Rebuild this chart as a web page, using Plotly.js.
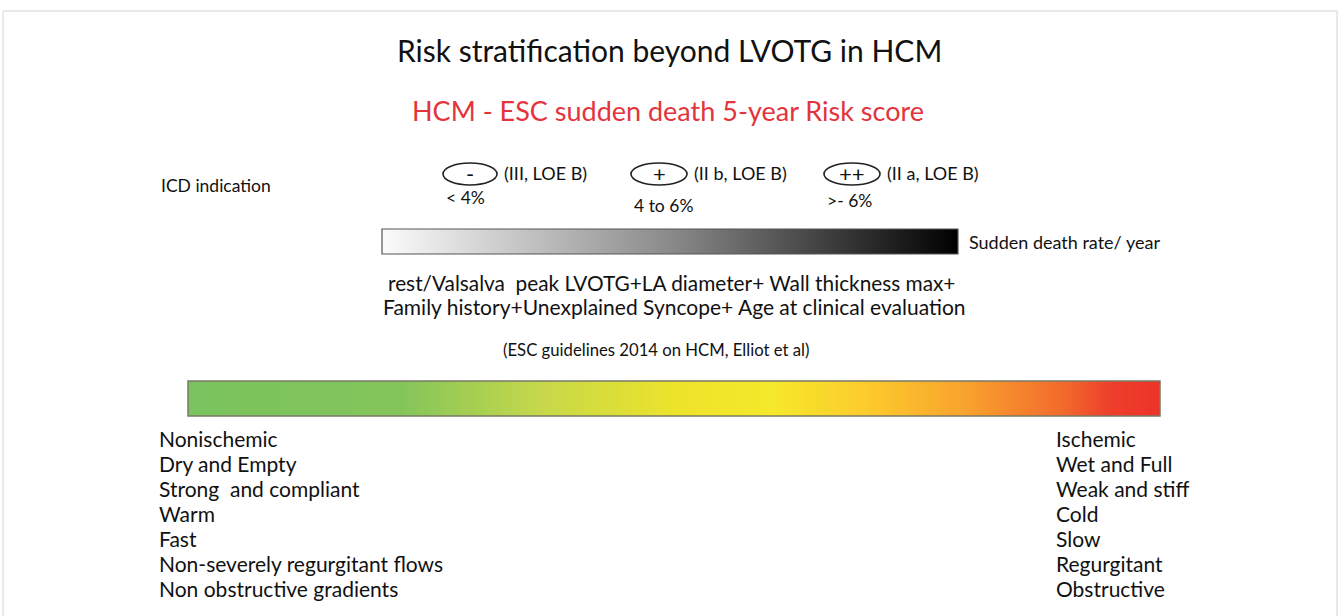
<!DOCTYPE html>
<html><head><meta charset="utf-8">
<script src="https://cdn.plot.ly/plotly-3.0.1.min.js"></script>
<style>html,body{margin:0;padding:0;background:#fff;}#chart{width:1340px;height:616px;}</style>
</head><body><div id="chart"></div>
<script>
// ---- data ----
const titleText = 'Risk stratification beyond LVOTG in HCM';
const subtitleText = 'HCM - ESC sudden death 5-year Risk score';
const icdLabel = 'ICD indication';
const icdSymbols = ['-', '+', '++'];
const icdClasses = ['(III, LOE B)', '(II b, LOE B)', '(II a, LOE B)'];
const riskRanges = ['< 4%', '4 to 6%', '>- 6%'];
const grayScaleLabel = 'Sudden death rate/ year';
const scoreLines = ['rest/Valsalva  peak LVOTG+LA diameter+ Wall thickness max+',
                    'Family history+Unexplained Syncope+ Age at clinical evaluation'];
const sourceText = '(ESC guidelines 2014 on HCM, Elliot et al)';
const leftLabels = ['Nonischemic', 'Dry and Empty', 'Strong  and compliant', 'Warm', 'Fast',
                    'Non-severely regurgitant flows', 'Non obstructive gradients'];
const rightLabels = ['Ischemic', 'Wet and Full', 'Weak and stiff', 'Cold', 'Slow',
                     'Regurgitant', 'Obstructive'];
const grayStops = [0, 0.5, 1];
const grayColors = ['#fbfbfb', '#8a8a8a', '#000000'];
const colorStops = [0, 0.22, 0.36, 0.5, 0.6, 0.7, 0.8, 0.9, 0.95, 1];
const colorColors = ['#7ac35e', '#84c55a', '#c5d84b', '#ede32a', '#f6e92b', '#fcca2c', '#f9a22e', '#f26a2b', '#ee3e2b', '#ec3329'];

// ---- layout helpers ----
const W = 1340, H = 616;
const FONT = 'Lato, "Open Sans", sans-serif';
const INK = '#111';
const grayBar = {x0: 382, x1: 958, y0: 229, y1: 254};
const colorBar = {x0: 188, x1: 1160, y0: 381, y1: 416};
function dom(b) {
  return {x: [b.x0 / W, b.x1 / W], y: [1 - b.y1 / H, 1 - b.y0 / H]};
}
const gd = dom(grayBar), cd = dom(colorBar);
const hidden = {visible: false, showgrid: false, zeroline: false, fixedrange: true};

const traces = [
  {type: 'heatmap', xaxis: 'x2', yaxis: 'y2', x: grayStops, y: [0, 1], z: [grayStops, grayStops],
   zmin: 0, zmax: 1, zsmooth: 'best', showscale: false,
   colorscale: grayStops.map((s, i) => [s, grayColors[i]]), hoverinfo: 'skip'},
  {type: 'heatmap', xaxis: 'x3', yaxis: 'y3', x: colorStops, y: [0, 1], z: [colorStops, colorStops],
   zmin: 0, zmax: 1, zsmooth: 'best', showscale: false,
   colorscale: colorStops.map((s, i) => [s, colorColors[i]]), hoverinfo: 'skip'}
];

const ann = [];
function txt(text, x, y, size, opts) {
  ann.push(Object.assign({text: text, x: x, y: y, xref: 'x', yref: 'y', showarrow: false,
    xanchor: 'left', yanchor: 'middle', font: {family: FONT, size: size, color: INK}}, opts || {}));
}
txt(titleText, 669, 50, 30, {xanchor: 'center'});
txt(subtitleText, 668, 110, 27, {xanchor: 'center', font: {family: FONT, size: 27, color: '#e3343c'}});
txt(icdLabel, 159, 185, 17.5);

const ovalX = [443, 631, 824];
const ovalW = [54, 56, 56];
const rangeY = [197, 205, 200];
const shapes = [];
icdSymbols.forEach((s, i) => {
  shapes.push({type: 'circle', xref: 'x', yref: 'y', x0: ovalX[i], x1: ovalX[i] + ovalW[i], y0: 163, y1: 185,
    line: {color: '#222', width: 1.6}});
  txt(s, ovalX[i] + ovalW[i] / 2, 173, 22, {xanchor: 'center'});
  txt(icdClasses[i], ovalX[i] + ovalW[i] + 5, 173, 18);
  txt(riskRanges[i], ovalX[i] + 1, rangeY[i], 17.5);
});
txt(grayScaleLabel, 967, 242, 18);
txt(scoreLines[0], 671, 282, 20.8, {xanchor: 'center'});
txt(scoreLines[1], 674, 306, 21, {xanchor: 'center'});
txt(sourceText, 656, 350, 16.7, {xanchor: 'center'});
leftLabels.forEach((t, i) => txt(t, 157, 438 + 25 * i, 21));
rightLabels.forEach((t, i) => txt(t, 1054, 438 + 25 * i, 21));

shapes.push({type: 'rect', xref: 'x', yref: 'y', x0: grayBar.x0, x1: grayBar.x1, y0: grayBar.y0, y1: grayBar.y1,
  line: {color: '#555', width: 1.2}, layer: 'above'});
shapes.push({type: 'rect', xref: 'x', yref: 'y', x0: colorBar.x0, x1: colorBar.x1, y0: colorBar.y0, y1: colorBar.y1,
  line: {color: '#7a7a66', width: 1.5}, layer: 'above'});
shapes.push({type: 'rect', xref: 'x', yref: 'y', x0: 3, x1: 1337, y0: 11, y1: 630,
  line: {color: '#d4d4d4', width: 1}, layer: 'above'});

const layout = {
  width: W, height: H, margin: {l: 0, r: 0, t: 0, b: 0},
  paper_bgcolor: '#fff', plot_bgcolor: 'rgba(0,0,0,0)', showlegend: false,
  xaxis: Object.assign({range: [0, W], domain: [0, 1]}, hidden),
  yaxis: Object.assign({range: [H, 0], domain: [0, 1]}, hidden),
  xaxis2: Object.assign({range: [0, 1], domain: gd.x, anchor: 'y2'}, hidden),
  yaxis2: Object.assign({range: [0, 1], domain: gd.y, anchor: 'x2'}, hidden),
  xaxis3: Object.assign({range: [0, 1], domain: cd.x, anchor: 'y3'}, hidden),
  yaxis3: Object.assign({range: [0, 1], domain: cd.y, anchor: 'x3'}, hidden),
  annotations: ann, shapes: shapes
};
Plotly.newPlot('chart', traces, layout, {staticPlot: true, displayModeBar: false});
</script></body></html>
